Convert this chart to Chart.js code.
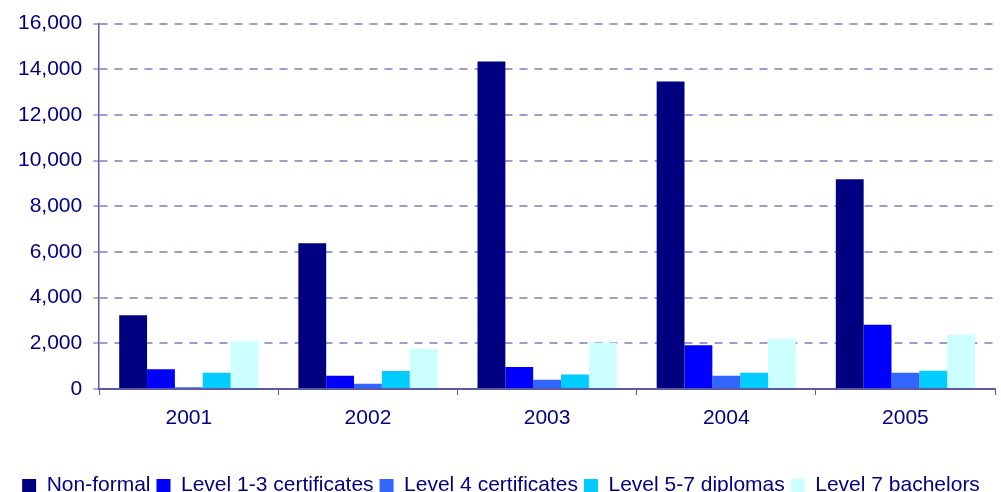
<!DOCTYPE html>
<html>
<head>
<meta charset="utf-8">
<script src="https://cdn.jsdelivr.net/npm/chart.js@4"></script>
<style>
  html, body { margin: 0; padding: 0; background: #ffffff; overflow: hidden; }
  #wrap { position: relative; width: 1001px; height: 506px; }
</style>
</head>
<body>
<div id="wrap"><canvas id="c"></canvas></div>
<script>
const categories = ['2001', '2002', '2003', '2004', '2005'];
const seriesNames = ['Non-formal', 'Level 1-3 certificates', 'Level 4 certificates', 'Level 5-7 diplomas', 'Level 7 bachelors'];
const nonFormal = [3230, 6380, 14340, 13460, 9180];
const level13 = [870, 580, 960, 1920, 2810];
const level4 = [80, 230, 410, 580, 710];
const level57 = [710, 790, 630, 710, 800];
const level7 = [2100, 1760, 2030, 2200, 2380];
const yTicks = [0, 2000, 4000, 6000, 8000, 10000, 12000, 14000, 16000];

const colors = ['#000080', '#0000ff', '#3366ff', '#00ccff', '#ccffff'];
const seriesValues = [nonFormal, level13, level4, level57, level7];
const navy = '#000080';
const axisColor = '#5a5aa8';
const gridColor = '#9c9cd0';
const font = { family: 'Arial, "Liberation Sans", sans-serif', size: 21 };
const legendFont = { family: 'Arial, "Liberation Sans", sans-serif', size: 21 };

new Chart(document.getElementById('c'), {
  type: 'bar',
  data: {
    labels: categories,
    datasets: seriesNames.map((name, i) => ({
      label: name,
      data: seriesValues[i],
      backgroundColor: colors[i],
      borderWidth: 0,
      categoryPercentage: 0.777,
      barPercentage: 1.0
    }))
  },
  options: {
    responsive: true,
    maintainAspectRatio: false,
    animation: false,
    layout: { padding: { left: 7, right: 6, top: 10, bottom: 0 } },
    plugins: {
      tooltip: { enabled: false },
      legend: {
        position: 'bottom',
        labels: {
          font: legendFont,
          color: navy,
          boxWidth: 14,
          boxHeight: 13,
          padding: 6
        }
      }
    },
    scales: {
      x: {
        afterFit: (scale) => { scale.height = 80; },
        grid: {
          offset: true,
          drawOnChartArea: false,
          drawTicks: true,
          tickLength: 6,
          tickColor: axisColor,
          tickWidth: 1
        },
        border: { display: true, color: axisColor, width: 2 },
        ticks: { font: font, color: navy, padding: 11 }
      },
      y: {
        min: 0,
        max: 16000,
        afterBuildTicks: (scale) => { scale.ticks = yTicks.map(v => ({ value: v })); },
        grid: {
          color: (ctx) => (ctx.tick && ctx.tick.value === 0) ? 'rgba(0,0,0,0)' : gridColor,
          lineWidth: 2,
          drawTicks: true,
          tickLength: 6,
          tickColor: axisColor,
          tickWidth: 1,
          tickBorderDash: []
        },
        border: { display: true, color: axisColor, width: 1.5, dash: [8, 7] },
        ticks: {
          font: font,
          color: navy,
          padding: 11,
          callback: (v) => Number(v).toLocaleString('en-US')
        }
      }
    }
  }
});
</script>
</body>
</html>
